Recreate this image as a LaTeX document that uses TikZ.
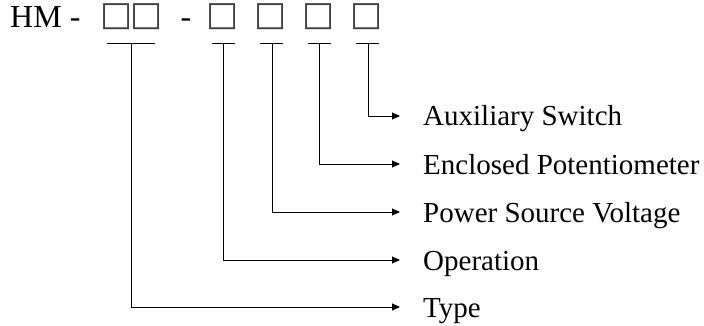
\documentclass[tikz,border=0pt]{standalone}
\usepackage{fontspec}
\setmainfont{Liberation Serif}
\newfontfamily\symfont{DejaVu Sans}
\usetikzlibrary{arrows.meta}
\tikzset{
  conn/.style={line width=0.9pt, -{Triangle[length=8pt,width=7pt]}},
  bar/.style={line width=0.9pt},
  lbl/.style={anchor=base west, inner sep=0pt, font=\fontsize{29}{32}\selectfont},
  sq/.style={inner sep=0pt, font=\symfont\fontsize{34}{34}\selectfont, text=black!75},
}
\begin{document}
\begin{tikzpicture}[x=1pt,y=-1pt]
\useasboundingbox (0,0) rectangle (704,326);
\node[anchor=base west, inner sep=0pt, font=\fontsize{32}{34}\selectfont] (hm) at (10,28) {HM -};
\node[sq] (s1) at (116.5,16.5) {□};
\node[sq] (s2) at (147,16.5) {□};
\node[anchor=base, inner sep=0pt, font=\fontsize{32}{34}\selectfont] (dash) at (186,28) {-};
\node[sq] (s3) at (222.5,16.5) {□};
\node[sq] (s4) at (271,16.5) {□};
\node[sq] (s5) at (319,16.5) {□};
\node[sq] (s6) at (367,16.5) {□};
% bars
\draw[bar] (107,43) -- (155,43);
\draw[bar] (212,43) -- (235,43);
\draw[bar] (260,43) -- (283,43);
\draw[bar] (308,43) -- (331,43);
\draw[bar] (356,43) -- (379,43);
\coordinate (b1) at (131,43);
\coordinate (b2) at (223,43);
\coordinate (b3) at (272,43);
\coordinate (b4) at (319,43);
\coordinate (b5) at (368,43);
% arrow ends
\coordinate (e5) at (400,116);
\coordinate (e4) at (400,164);
\coordinate (e3) at (400,212);
\coordinate (e2) at (400,260);
\coordinate (e1) at (400,307);
\draw[conn] (b5) |- (e5);
\draw[conn] (b4) |- (e4);
\draw[conn] (b3) |- (e3);
\draw[conn] (b2) |- (e2);
\draw[conn] (b1) |- (e1);
\node[lbl] (l5) at (423,126) {Auxiliary Switch};
\node[lbl] (l4) at (423,174) {Enclosed Potentiometer};
\node[lbl] (l3) at (423,222) {Power Source Voltage};
\node[lbl] (l2) at (423,270) {Operation};
\node[lbl] (l1) at (423,317) {Type};
\end{tikzpicture}
\end{document}
